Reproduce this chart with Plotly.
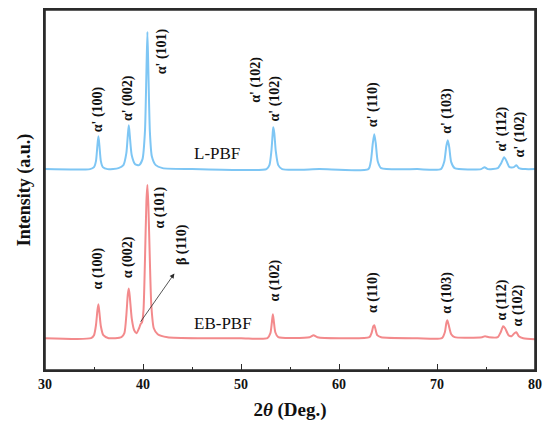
import plotly.graph_objects as go

# ---- data (2theta in degrees, intensity in arbitrary units) ----
lpbf_x = [30.0, 34.6, 35.0, 35.2, 35.35, 35.45, 35.55, 35.7, 35.9, 36.4, 37.5, 38.0, 38.3, 38.45, 38.55,
          38.65, 38.85, 39.2, 39.6, 39.95, 40.2, 40.35, 40.45, 40.55, 40.7, 40.9, 41.3, 42.0, 45.0, 50.0,
          52.6, 52.9, 53.1, 53.25, 53.3, 53.4, 53.55, 53.8, 54.2, 58.0, 63.0, 63.25, 63.45, 63.6, 63.75,
          63.95, 64.3, 68.0, 70.4, 70.75, 70.95, 71.1, 71.25, 71.45, 71.8, 74.5, 74.85, 75.2, 76.2, 76.55,
          76.85, 77.1, 77.4, 77.85, 78.1, 78.35, 79.0, 80.0]
lpbf_y = [202, 202, 204, 210, 226, 235, 226, 210, 204, 202, 203, 206, 218, 236, 246,
          236, 216, 207, 206, 212, 240, 300, 340, 300, 240, 215, 206, 203, 202, 201,
          202, 206, 220, 240, 244, 238, 220, 206, 202, 202, 202, 210, 228, 237, 228,
          210, 203, 202, 202, 210, 225, 231, 224, 209, 203, 202, 204, 202, 203, 208,
          214, 210, 204, 204, 206, 203, 202, 202]

ebpbf_x = [30.0, 34.7, 35.0, 35.2, 35.35, 35.45, 35.55, 35.7, 35.95, 36.5, 37.8, 38.1, 38.3, 38.45, 38.55,
           38.65, 38.85, 39.1, 39.35, 39.6, 39.75, 39.9, 40.05, 40.2, 40.35, 40.45, 40.55, 40.7, 40.85,
           41.1, 41.5, 42.5, 46.0, 50.0, 52.7, 53.0, 53.15, 53.25, 53.35, 53.5, 53.8, 57.0, 57.4, 57.8,
           60.0, 63.1, 63.35, 63.5, 63.6, 63.7, 63.9, 64.3, 68.0, 70.5, 70.8, 70.95, 71.05, 71.2, 71.45,
           71.8, 74.6, 74.9, 75.3, 76.2, 76.5, 76.75, 76.95, 77.3, 77.6, 77.9, 78.1, 78.35, 78.8, 80.0]
ebpbf_y = [32, 32, 35, 45, 60, 66, 58, 44, 35, 32, 33, 37, 55, 76, 82,
           74, 52, 40, 37, 42, 46, 48, 60, 110, 170, 186, 165, 110, 65,
           42, 36, 33, 32, 32, 32, 37, 48, 56, 49, 38, 33, 33, 35, 33,
           32, 33, 38, 44, 45, 42, 35, 33, 32, 32, 38, 47, 50, 45, 36,
           33, 33, 34, 33, 33, 38, 44, 42, 35, 34, 37, 38, 34, 32, 31]

lpbf_labels = ["α' (100)", "α' (002)", "α' (101)", "α' (102)", "α' (102)", "α' (110)",
               "α' (103)", "α' (112)", "α' (102)"]
ebpbf_labels = ["α (100)", "α (002)", "α (101)", "β (110)", "α (102)", "α (110)",
                "α (103)", "α (112)", "α (102)"]
sample_names = ["L-PBF", "EB-PBF"]
x_ticks = [30, 40, 50, 60, 70, 80]

# ---- label placement (layout) ----
lpbf_pos = [(35.49, 262), (38.43, 273), (41.89, 320), (51.54, 292), (53.37, 273),
            (63.54, 267), (71.06, 261), (76.65, 242), (78.48, 237)]
ebpbf_pos = [(35.39, 102), (38.43, 113), (41.69, 163), (43.92, 126), (53.37, 90),
             (63.54, 78), (71.06, 78), (76.65, 70), (78.27, 65)]
name_pos = [(47.6, 218), (48.2, 47)]

BLUE = "#7ec6f4"
PINK = "#f38a8c"
FONT = "Liberation Serif"
AXC = "#2b2b2b"

fig = go.Figure()
fig.add_trace(go.Scatter(x=lpbf_x, y=lpbf_y, mode="lines", line=dict(color=BLUE, width=2, shape="spline", smoothing=0.6),
                         name=sample_names[0], showlegend=False))
fig.add_trace(go.Scatter(x=ebpbf_x, y=ebpbf_y, mode="lines", line=dict(color=PINK, width=2, shape="spline", smoothing=0.6),
                         name=sample_names[1], showlegend=False))

anns = []
for txt, (x, y) in zip(lpbf_labels + ebpbf_labels, lpbf_pos + ebpbf_pos):
    anns.append(dict(x=x, y=y, xref="x", yref="y", text="<b>" + txt + "</b>", textangle=-90,
                     showarrow=False, font=dict(family=FONT, size=14, color="#111111")))
for txt, (x, y) in zip(sample_names, name_pos):
    anns.append(dict(x=x, y=y, xref="x", yref="y", text=txt, showarrow=False,
                     font=dict(family=FONT, size=17, color="#111111")))
# arrow to beta shoulder
anns.append(dict(x=43.2, y=97, xref="x", yref="y", ax=39.65, ay=47, axref="x", ayref="y",
                 text="", showarrow=True, arrowhead=2, arrowsize=1.2, arrowwidth=0.8, arrowcolor=AXC))

fig.update_layout(
    width=550, height=433,
    margin=dict(l=45, r=13, t=8, b=63),
    paper_bgcolor="white", plot_bgcolor="white",
    annotations=anns,
    shapes=[dict(type="rect", xref="paper", yref="paper", x0=0, x1=1, y0=0, y1=1,
                 line=dict(color=AXC, width=1.6), layer="above")],
    font=dict(family=FONT, color="#111111"),
)
fig.update_xaxes(range=[30, 80], tickvals=x_ticks, ticktext=["<b>%d</b>" % v for v in x_ticks],
                 ticks="inside", ticklen=6, tickwidth=1.2, tickcolor=AXC,
                 minor=dict(dtick=5, ticks="inside", ticklen=3, tickwidth=1.2, tickcolor=AXC),
                 showline=True, linecolor=AXC, linewidth=1.5, mirror=True, showgrid=False, zeroline=False,
                 tickfont=dict(family=FONT, size=14),
                 title=dict(text="<b>2<i>θ</i> (Deg.)</b>", font=dict(family=FONT, size=19), standoff=12))
fig.update_yaxes(range=[0, 362], showticklabels=False, ticks="",
                 showline=True, linecolor=AXC, linewidth=1.5, mirror=True, showgrid=False, zeroline=False,
                 title=dict(text="<b>Intensity (a.u.)</b>", font=dict(family=FONT, size=18), standoff=8))

fig.write_html("out.html", config={"displayModeBar": False},
               post_script="document.body.style.margin='0';document.body.style.overflow='hidden';")
